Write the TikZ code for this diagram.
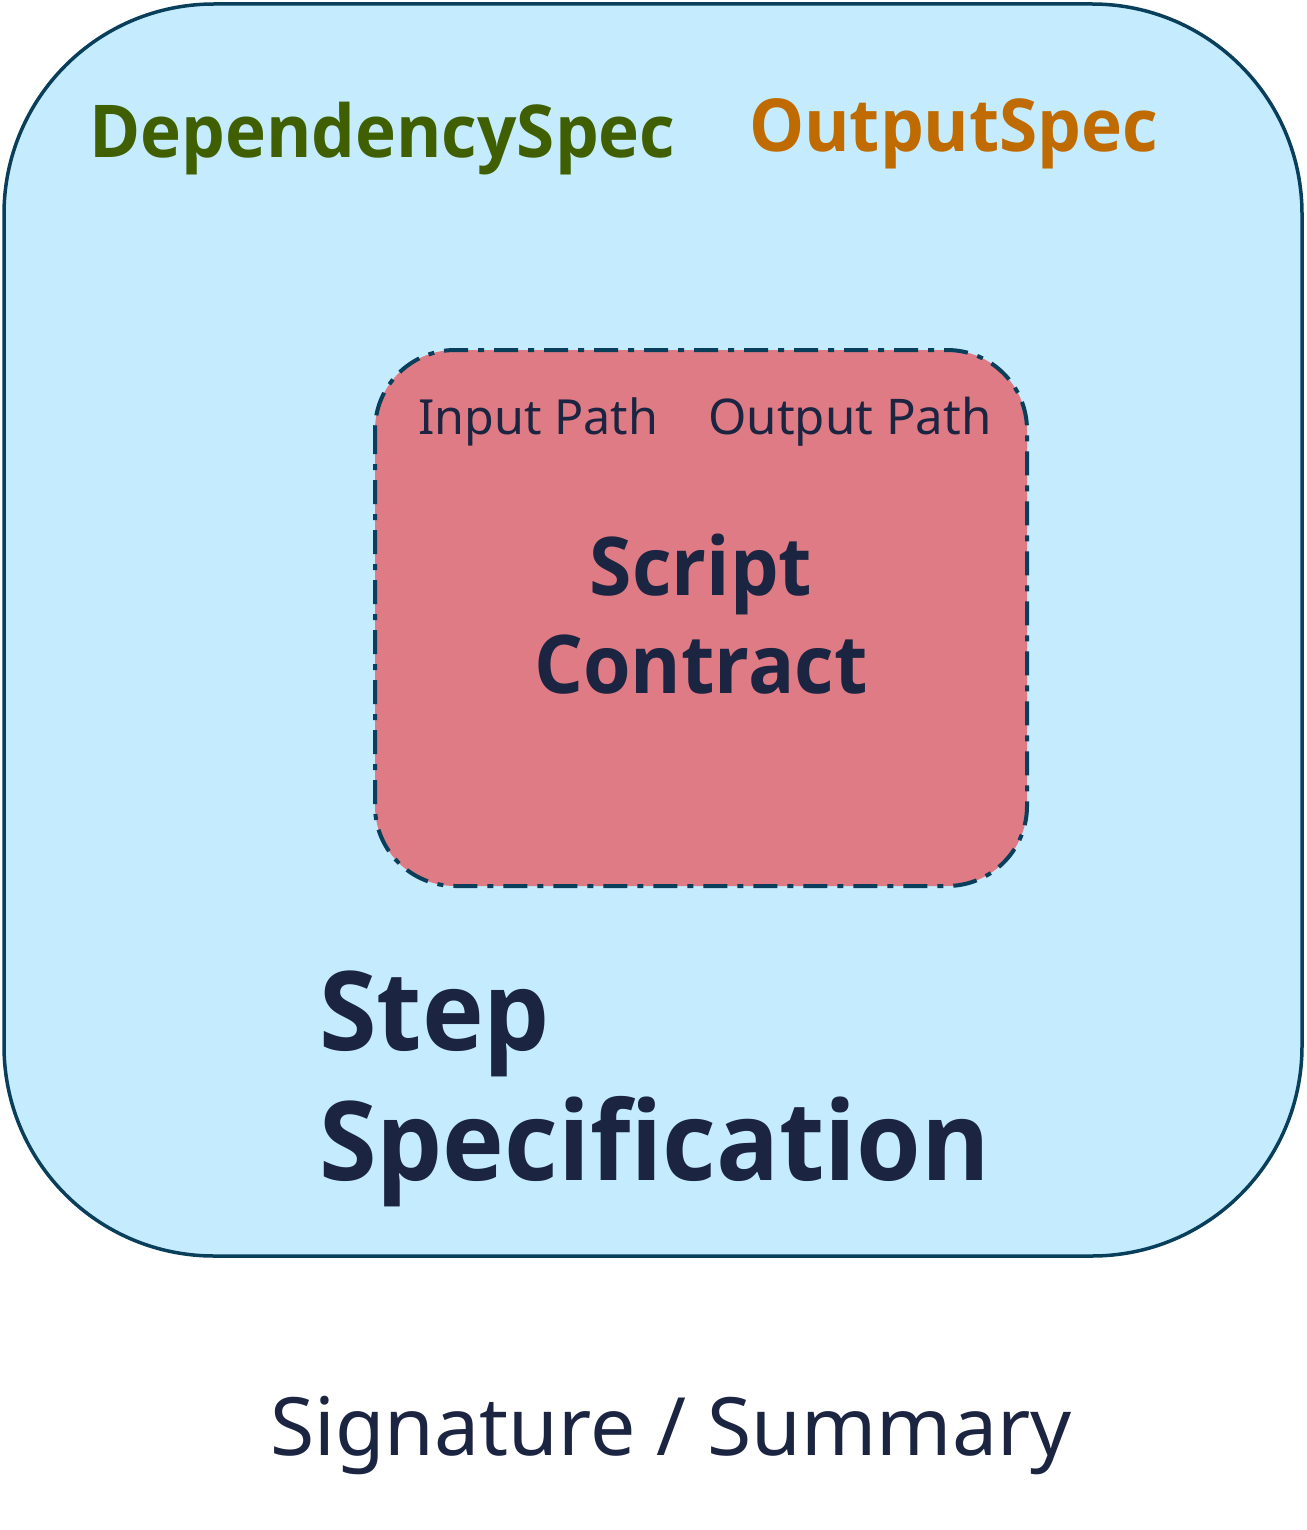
\documentclass[tikz,border=0pt]{standalone}
\usepackage{fontspec}
\setmainfont{Noto Sans}
\newfontfamily\boldfam{Open Sans}[FakeStretch=0.95]
\begin{document}
\begin{tikzpicture}[x=1pt,y=-1pt,
  txt/.style={text=navytxt, inner sep=0pt},
  outerbox/.style={draw=edgeblue, line width=3.5pt, fill=skyfill, rounded corners=210pt},
  innerbox/.style={draw=edgeblue, line width=4pt, fill=rosefill, rounded corners=80pt,
     dash pattern=on 24pt off 10pt on 6pt off 10pt}]
\definecolor{edgeblue}{HTML}{0A3F5C}
\definecolor{skyfill}{HTML}{C4ECFE}
\definecolor{rosefill}{HTML}{DE7B84}
\definecolor{navytxt}{HTML}{1B2440}
\definecolor{greentxt}{HTML}{3F5F00}
\definecolor{orangetxt}{HTML}{C06B00}
\useasboundingbox (0,0) rectangle (1306,1530);
\draw[outerbox] (4,4) rectangle (1302,1256);
\draw[innerbox] (375,350) rectangle (1027,886);
\node[txt, text=greentxt, anchor=base west, font=\boldfam\fontsize{72.9}{88}\selectfont\bfseries] (dep) at (89,158) {DependencySpec};
\node[txt, text=orangetxt, anchor=base west, font=\boldfam\fontsize{73}{88}\selectfont\bfseries] (out) at (749,152) {OutputSpec};
\node[txt, anchor=base west, font=\fontsize{48.4}{58}\selectfont] (inp) at (418,434) {Input Path};
\node[txt, anchor=base west, font=\fontsize{49.2}{58}\selectfont] (outp) at (708,434) {Output Path};
\node[txt, anchor=base, font=\boldfam\fontsize{81}{96}\selectfont\bfseries] (scr) at (701,595) {Script};
\node[txt, anchor=base, font=\boldfam\fontsize{81}{96}\selectfont\bfseries] (con) at (701,693) {Contract};
\node[txt, anchor=base west, font=\boldfam\fontsize{110}{130}\selectfont\bfseries] (step) at (319,1050) {Step};
\node[txt, anchor=base west, font=\boldfam\fontsize{110}{130}\selectfont\bfseries] (spec) at (319,1180) {Specification};
\node[txt, anchor=base, font=\fontsize{80.5}{96}\selectfont] (sig) at (671,1455) {Signature / Summary};
\end{tikzpicture}
\end{document}
